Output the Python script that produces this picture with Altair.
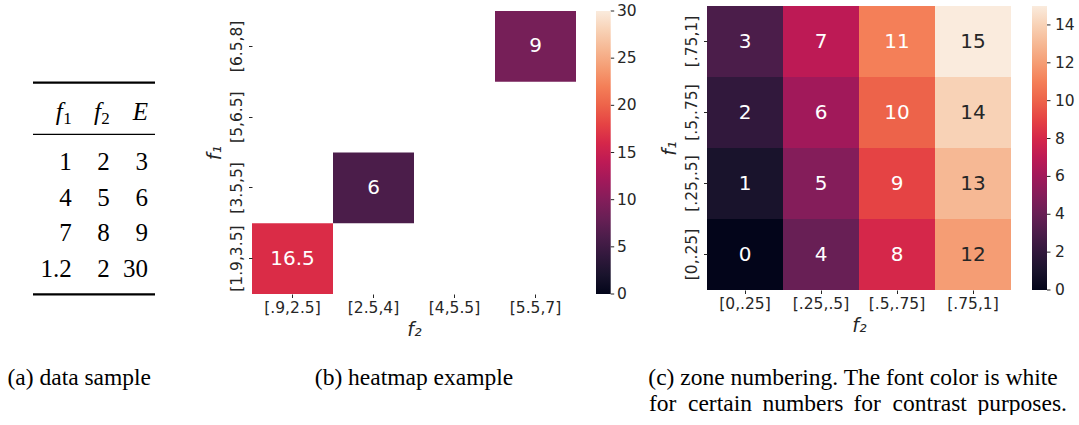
import altair as alt
import pandas as pd

# ---------------- data ----------------
# (a) data sample table
table_cols = ["f1", "f2", "E"]
table_f1 = ["1", "4", "7", "1.2"]
table_f2 = ["2", "5", "8", "2"]
table_E = ["3", "6", "9", "30"]
header_letters = ["f", "f", "E"]
header_subs = ["1", "2", ""]

# (b) heatmap example
b_f2_bins = ["[.9,2.5]", "[2.5,4]", "[4,5.5]", "[5.5,7]"]
b_f1_bins = ["[1.9,3.5]", "[3.5,5]", "[5,6.5]", "[6.5,8]"]  # bottom -> top
b_cell_f1 = ["[1.9,3.5]", "[3.5,5]", "[6.5,8]"]
b_cell_f2 = ["[.9,2.5]", "[2.5,4]", "[5.5,7]"]
b_cell_E = [16.5, 6, 9]
b_cell_label = ["16.5", "6", "9"]
b_cbar_ticks = [0, 5, 10, 15, 20, 25, 30]

# (c) zone numbering
c_f2_bins = ["[0,.25]", "[.25,.5]", "[.5,.75]", "[.75,1]"]
c_f1_bins = ["[0,.25]", "[.25,.5]", "[.5,.75]", "[.75,1]"]  # bottom -> top
c_zone_rows = [  # one list per f1 bin (bottom -> top), values across f2 bins
    [0, 4, 8, 12],
    [1, 5, 9, 13],
    [2, 6, 10, 14],
    [3, 7, 11, 15],
]
c_cbar_ticks = [0, 2, 4, 6, 8, 10, 12, 14]

captions = ["(a) data sample", "(b) heatmap example",
            "(c) zone numbering.  The font color is white"]
caption_line2 = ["for", "certain", "numbers", "for", "contrast", "purposes."]

# seaborn "rocket" colormap stops
rocket = ["#03051a", "#35193e", "#701f57", "#ad1759",
          "#e13342", "#f37651", "#f6b48f", "#faebdd"]

SANS = "DejaVu Sans"
SERIF = "Liberation Serif"
INK = "#262626"

# ---------------- (a) table ----------------
rows = []
for i in range(4):
    for col, vals in zip(table_cols, [table_f1, table_f2, table_E]):
        rows.append({"col": col, "row": i + 1, "txt": vals[i]})
tdf = pd.DataFrame(rows)
hdf = pd.DataFrame({"col": table_cols, "letter": header_letters, "sub": header_subs})

xcol = alt.X("col:N", scale=alt.Scale(type="point", domain=table_cols,
                                      range=[71.7, 148], padding=0), axis=None)

table_body = alt.Chart(tdf).mark_text(
    font=SERIF, fontSize=25, align="right", baseline="alphabetic", color="black"
).encode(
    x=xcol,
    y=alt.Y("row:O", scale=alt.Scale(type="point", domain=[1, 2, 3, 4],
                                      range=[170, 276.7], padding=0), axis=None),
    text="txt:N",
)

head_f = alt.Chart(hdf).transform_filter("datum.sub != ''").mark_text(
    font=SERIF, fontSize=25, fontStyle="italic", align="right",
    baseline="alphabetic", color="black", dx=-9
).encode(x=xcol, y=alt.value(119.5), text="letter:N")

head_E = alt.Chart(hdf).transform_filter("datum.sub == ''").mark_text(
    font=SERIF, fontSize=25, fontStyle="italic", align="right",
    baseline="alphabetic", color="black"
).encode(x=xcol, y=alt.value(119.5), text="letter:N")

head_sub = alt.Chart(hdf).transform_filter("datum.sub != ''").mark_text(
    font=SERIF, fontSize=17, align="right", baseline="alphabetic", color="black"
).encode(x=xcol, y=alt.value(123.5), text="sub:N")

rule_src = pd.DataFrame({"k": [0]})
def hrule(y, w):
    return alt.Chart(rule_src).mark_rule(color="black", strokeWidth=w).encode(
        x=alt.value(33), x2=alt.value(155), y=alt.value(y))

cap_layers = []
cap_layers.append(alt.Chart(pd.DataFrame({"t": [captions[0]]})).mark_text(
    font=SERIF, fontSize=23.5, align="left", baseline="alphabetic", color="black"
).encode(x=alt.value(7.5), y=alt.value(384.5), text="t:N"))
cap_layers.append(alt.Chart(pd.DataFrame({"t": [captions[1]]})).mark_text(
    font=SERIF, fontSize=23.5, align="center", baseline="alphabetic", color="black"
).encode(x=alt.value(414), y=alt.value(384.5), text="t:N"))
cap_layers.append(alt.Chart(pd.DataFrame({"t": [captions[2]]})).mark_text(
    font=SERIF, fontSize=23.5, align="left", baseline="alphabetic", color="black"
).encode(x=alt.value(648.3), y=alt.value(384.5), text="t:N"))
word_x = [649, 688, 762.5, 853.5, 892.5, 977.5]
for w, xv in zip(caption_line2, word_x):
    cap_layers.append(alt.Chart(pd.DataFrame({"t": [w]})).mark_text(
        font=SERIF, fontSize=23.5, align="left", baseline="alphabetic", color="black"
    ).encode(x=alt.value(xv), y=alt.value(410.5), text="t:N"))

panel_a = alt.layer(
    hrule(82.7, 2.2), hrule(134.3, 1.3), hrule(294.3, 2.2),
    head_f, head_E, head_sub, table_body, *cap_layers
).properties(width=121, height=294)


# ---------------- heatmap helper ----------------
def x_axis():
    return alt.Axis(title="f₂", labelAngle=0, labelFont=SANS, labelFontSize=15.5,
                    labelColor=INK, labelPadding=3, tickSize=3.5, tickColor=INK,
                    tickWidth=1, domain=False, grid=False, titleFont=SANS,
                    titleFontSize=19, titleFontStyle="italic", titleFontWeight="normal",
                    titleColor=INK, titlePadding=4)

def y_axis():
    return alt.Axis(title="f₁", labelAngle=270, labelAlign="center",
                    labelBaseline="bottom", labelFont=SANS, labelFontSize=15.5,
                    labelColor=INK, labelPadding=4, tickSize=3.5, tickColor=INK,
                    tickWidth=1, domain=False, grid=False, titleFont=SANS,
                    titleFontSize=19, titleFontStyle="italic", titleFontWeight="normal",
                    titleColor=INK, titlePadding=5)

def stops(vmax):
    return [vmax * i / (len(rocket) - 1) for i in range(len(rocket))]


def cbar_legend(x, y, length, thick, values):
    # gradient only; tick labels are drawn by a text layer on the same value scale
    return alt.Legend(type="gradient", orient="none", legendX=x, legendY=y,
                      direction="vertical", gradientLength=length,
                      gradientThickness=thick, title=None, values=values,
                      labelExpr="''", labelOpacity=0, labelFontSize=1,
                      gradientStrokeWidth=0, padding=0)


def cbar_ticks(values, vmax, top, bot, x_tick, x_label):
    src = alt.Chart(pd.DataFrame({"v": values}))
    yv = alt.Y("v:Q", scale=alt.Scale(domain=[0, vmax], range=[bot, top]), axis=None)
    ticks = src.mark_rule(color=INK, strokeWidth=1).encode(
        y=yv, x=alt.value(x_tick), x2=alt.value(x_tick + 3.5))
    labels = src.mark_text(font=SANS, fontSize=15.5, color=INK, align="left",
                           baseline="middle").encode(
        y=yv, x=alt.value(x_label), text=alt.Text("v:Q", format="d"))
    return ticks, labels


# ---------------- (b) heatmap ----------------
bdf = pd.DataFrame({"f1": b_cell_f1, "f2": b_cell_f2, "E": b_cell_E, "lab": b_cell_label})
b_top, b_bot, b_w = 11, 294, 324

bx = alt.X("f2:N", scale=alt.Scale(domain=b_f2_bins, paddingInner=0, paddingOuter=0),
           axis=x_axis())
b_yscale = alt.Scale(domain=list(reversed(b_f1_bins)), range=[b_top, b_bot],
                     paddingInner=0, paddingOuter=0)
b_cscale = alt.Scale(domain=stops(30), range=rocket)

b_rect = alt.Chart(bdf).mark_rect().encode(
    x=bx, y=alt.Y("f1:N", scale=b_yscale, axis=y_axis()),
    color=alt.Color("E:Q", scale=b_cscale,
                    legend=cbar_legend(344, b_top, b_bot - b_top, 14.7, b_cbar_ticks)),
)
b_text = alt.Chart(bdf).mark_text(font=SANS, fontSize=20, color="white",
                                  baseline="middle").encode(
    x=bx, y=alt.Y("f1:N", scale=b_yscale, axis=None), text="lab:N")
b_tk, b_lb = cbar_ticks(b_cbar_ticks, 30, b_top, b_bot, 358.7, 365)
panel_b = alt.layer(b_rect, b_text, b_tk, b_lb).resolve_scale(y="independent").properties(
    width=b_w, height=b_bot)


# ---------------- (c) heatmap ----------------
crows = []
for i, f1 in enumerate(c_f1_bins):
    for j, f2 in enumerate(c_f2_bins):
        crows.append({"f1": f1, "f2": f2, "Z": c_zone_rows[i][j]})
cdf = pd.DataFrame(crows)
c_top, c_bot, c_w = 6, 290, 304

cx = alt.X("f2:N", scale=alt.Scale(domain=c_f2_bins, paddingInner=0, paddingOuter=0),
           axis=x_axis())
c_yscale = alt.Scale(domain=list(reversed(c_f1_bins)), range=[c_top, c_bot],
                     paddingInner=0, paddingOuter=0)
c_cscale = alt.Scale(domain=stops(15), range=rocket)

c_rect = alt.Chart(cdf).mark_rect().encode(
    x=cx, y=alt.Y("f1:N", scale=c_yscale, axis=y_axis()),
    color=alt.Color("Z:Q", scale=c_cscale,
                    legend=cbar_legend(325, c_top, c_bot - c_top, 15, c_cbar_ticks)),
)
c_text = alt.Chart(cdf).mark_text(font=SANS, fontSize=20, baseline="middle").encode(
    x=cx, y=alt.Y("f1:N", scale=c_yscale, axis=None), text="Z:N",
    color=alt.condition("datum.Z >= 12", alt.value(INK), alt.value("white")),
)
c_tk, c_lb = cbar_ticks(c_cbar_ticks, 15, c_top, c_bot, 340, 348)
panel_c = alt.layer(c_rect, c_text, c_tk, c_lb).resolve_scale(y="independent").properties(
    width=c_w, height=c_bot)


chart = alt.hconcat(panel_a, panel_b, panel_c, spacing=131, bounds="flush").resolve_scale(
    color="independent"
).properties(
    padding=0, background="white"
).configure_view(stroke=None)

chart.save("out.html", embed_options={"renderer": "svg", "actions": False})
